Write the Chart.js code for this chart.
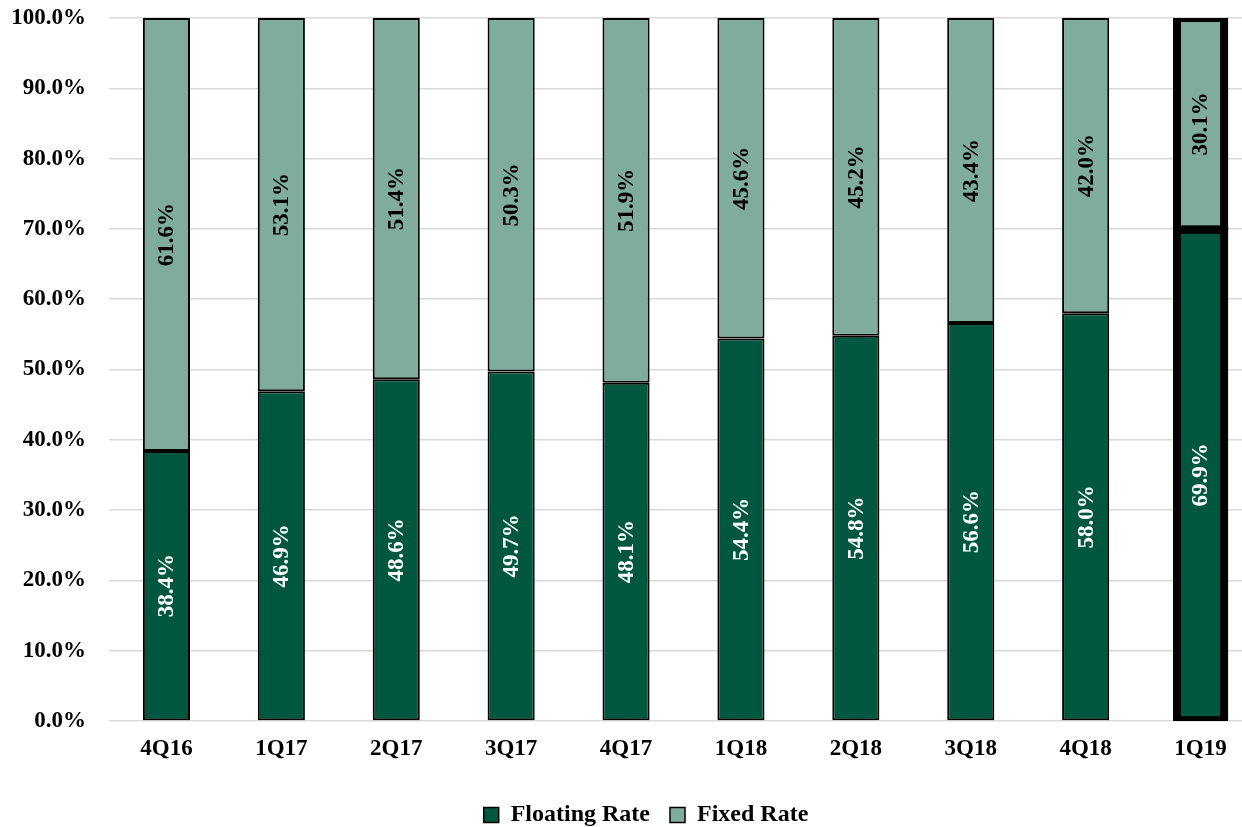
<!DOCTYPE html>
<html>
<head>
<meta charset="utf-8">
<script src="https://cdn.jsdelivr.net/npm/chart.js@4.4.1/dist/chart.umd.min.js"></script>
<style>
  html, body { margin: 0; padding: 0; background: #ffffff; overflow: hidden; }
  #wrap { position: absolute; left: 0; top: 0; width: 1258px; height: 827px; }
</style>
</head>
<body>
<div id="wrap"><canvas id="c"></canvas></div>
<script>
const categories = ['4Q16', '1Q17', '2Q17', '3Q17', '4Q17', '1Q18', '2Q18', '3Q18', '4Q18', '1Q19'];
const floatingRate = [38.4, 46.9, 48.6, 49.7, 48.1, 54.4, 54.8, 56.6, 58.0, 69.9];
const fixedRate = [61.6, 53.1, 51.4, 50.3, 51.9, 45.6, 45.2, 43.4, 42.0, 30.1];
const yTicks = [0, 10, 20, 30, 40, 50, 60, 70, 80, 90, 100];
const highlightIndex = 9;

const FONT = "'Liberation Serif', 'Times New Roman', serif";
const labelColors = ['#ffffff', '#000000'];

const segLabels = {
  id: 'segLabels',
  afterLayout(chart) {
    if (chart.legend) {
      chart.legend.left += 17;
      chart.legend.right += 17;
    }
  },
  afterDatasetsDraw(chart) {
    const ctx = chart.ctx;
    const area = chart.chartArea;
    ctx.save();
    ctx.beginPath();
    ctx.rect(area.left, area.top, area.right - area.left, area.bottom - area.top);
    ctx.clip();
    chart.data.datasets.forEach((ds, di) => {
      const meta = chart.getDatasetMeta(di);
      const bar = meta.data[highlightIndex];
      if (!bar) return;
      const p = bar.getProps(['x', 'y', 'base', 'width'], true);
      ctx.lineWidth = 8;
      ctx.strokeStyle = '#000000';
      ctx.strokeRect(p.x - p.width / 2, Math.min(p.y, p.base), p.width, Math.abs(p.base - p.y));
    });
    ctx.restore();
    chart.data.datasets.forEach((ds, di) => {
      const meta = chart.getDatasetMeta(di);
      meta.data.forEach((bar, i) => {
        const p = bar.getProps(['x', 'y', 'base'], true);
        const cy = (p.y + p.base) / 2;
        ctx.save();
        ctx.translate(p.x, cy);
        ctx.rotate(-Math.PI / 2);
        ctx.fillStyle = labelColors[di];
        ctx.font = "bold 23px " + FONT;
        ctx.textAlign = 'center';
        ctx.textBaseline = 'middle';
        ctx.fillText(ds.data[i].toFixed(1) + '%', 0, 1);
        ctx.restore();
      });
    });
  }
};

new Chart(document.getElementById('c'), {
  type: 'bar',
  data: {
    labels: categories,
    datasets: [
      {
        label: 'Floating Rate',
        data: floatingRate,
        backgroundColor: '#00573F',
        borderColor: '#000000',
        borderWidth: 2,
        borderSkipped: false
      },
      {
        label: 'Fixed Rate',
        data: fixedRate,
        backgroundColor: '#7FAC9C',
        borderColor: '#000000',
        borderWidth: 2,
        borderSkipped: false
      }
    ]
  },
  options: {
    responsive: true,
    maintainAspectRatio: false,
    animation: false,
    devicePixelRatio: 1,
    datasets: { bar: { categoryPercentage: 1, barPercentage: 0.41 } },
    layout: { autoPadding: false, padding: { left: 0, right: 0, top: 18, bottom: -10 } },
    scales: {
      x: {
        stacked: true,
        afterFit(scale) { scale.height = 62; },
        grid: { display: false, drawTicks: false },
        border: { display: false },
        ticks: {
          padding: 14,
          color: '#000000',
          font: { family: FONT, size: 23, weight: 'bold' },
          maxRotation: 0
        }
      },
      y: {
        stacked: true,
        min: 0,
        max: 100,
        afterFit(scale) {
          scale.width = 109;
          scale.paddingTop = 0;
          scale.paddingBottom = 0;
        },
        afterBuildTicks(scale) { scale.ticks = yTicks.map(v => ({ value: v })); },
        grid: { color: '#D9D9D9', lineWidth: 1.5, drawTicks: false },
        border: { display: false },
        ticks: {
          padding: 23,
          color: '#000000',
          font: { family: FONT, size: 23, weight: 'bold' },
          callback: v => Number(v).toFixed(1) + '%'
        }
      }
    },
    plugins: {
      tooltip: { enabled: false },
      legend: {
        position: 'bottom',
        labels: {
          color: '#000000',
          font: { family: FONT, size: 24, weight: 'bold' },
          boxWidth: 15,
          boxHeight: 15,
          padding: 20,
          generateLabels(chart) {
            return chart.data.datasets.map((ds, i) => ({
              text: ds.label,
              fillStyle: ds.backgroundColor,
              strokeStyle: '#000000',
              lineWidth: 1.5,
              fontColor: '#000000',
              datasetIndex: i,
              hidden: false
            }));
          }
        }
      }
    }
  },
  plugins: [segLabels]
});
</script>
</body>
</html>
